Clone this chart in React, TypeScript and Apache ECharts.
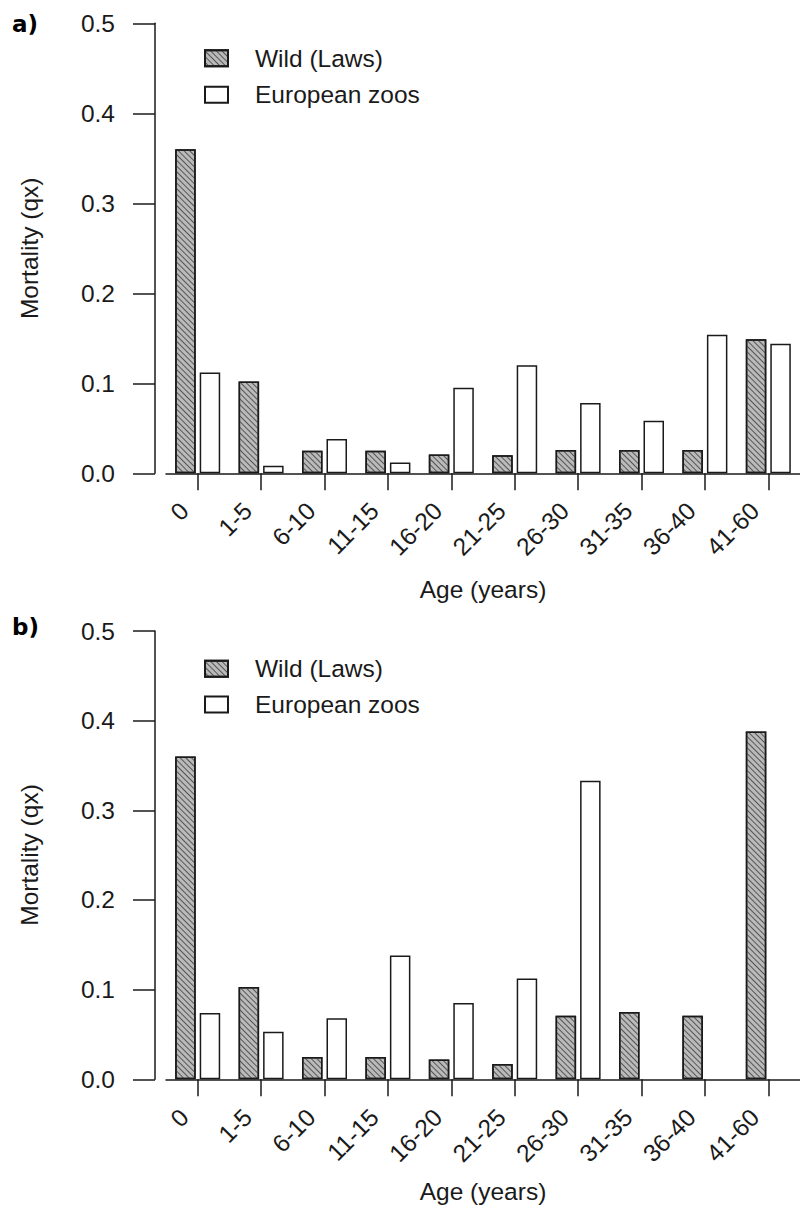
import React, { useEffect, useRef } from "react";
import * as echarts from "echarts";

// ---- data ----
const ageGroups = ["0", "1-5", "6-10", "11-15", "16-20", "21-25", "26-30", "31-35", "36-40", "41-60"];
const yTickValues = [0, 0.1, 0.2, 0.3, 0.4, 0.5];
const wildA = [0.36, 0.102, 0.025, 0.025, 0.021, 0.02, 0.026, 0.026, 0.026, 0.149];
const zoosA = [0.112, 0.0085, 0.038, 0.012, 0.095, 0.12, 0.078, 0.0585, 0.154, 0.144];
const wildB = [0.36, 0.103, 0.025, 0.025, 0.022, 0.017, 0.071, 0.075, 0.071, 0.388];
const zoosB = [0.074, 0.053, 0.068, 0.138, 0.085, 0.1125, 0.333, null, null, null];
const panelLabels = ["a)", "b)"];
const seriesNames = ["Wild (Laws)", "European zoos"];
const xTitle = "Age (years)";
const yTitle = "Mortality (qx)";

const FONT = "'Liberation Sans', Arial, Helvetica, sans-serif";
const FS = 24.5;
const INK = "#1a1a1a";

export default function App() {
  const ref = useRef<HTMLDivElement>(null);

  useEffect(() => {
    if (!ref.current) return;
    const chart = echarts.init(ref.current, null, { renderer: "svg" });

    const grids = [
      { left: 166, right: -10.5, top: 23.3, height: 450 },
      { left: 166, right: -10.5, top: 631, height: 448.3 },
    ];

    const xAxes = grids.map((_, i) => ({
      type: "category",
      gridIndex: i,
      data: ageGroups,
      offset: i === 0 ? 8.4 : 9,
      axisLine: { show: true, lineStyle: { color: INK, width: 1.5 } },
      axisTick: { show: true, alignWithLabel: true, length: 17, lineStyle: { color: INK, width: 1.5 } },
      axisLabel: {
        rotate: 45,
        interval: 0,
        fontSize: FS,
        fontFamily: FONT,
        color: INK,
        margin: 11.5,
        padding: [0, 19, 0, 0],
      },
      splitLine: { show: false },
    }));

    const yAxes = grids.map((_, i) => ({
      type: "value",
      gridIndex: i,
      min: yTickValues[0],
      max: yTickValues[yTickValues.length - 1],
      interval: 0.1,
      offset: 11,
      axisLine: { show: true, lineStyle: { color: INK, width: 1.5 } },
      axisTick: { show: true, length: 22, lineStyle: { color: INK, width: 1.5 } },
      axisLabel: {
        fontSize: FS,
        fontFamily: FONT,
        color: INK,
        margin: 40,
        formatter: (v: number) => v.toFixed(1),
      },
      splitLine: { show: false },
    }));

    const hatch = {
      color: "#bababa",
      borderColor: INK,
      borderWidth: 1.5,
      decal: {
        symbol: "rect",
        symbolSize: 1,
        dashArrayX: [1, 0],
        dashArrayY: [1, 2.2],
        rotation: Math.PI / 4,
        color: "#555555",
      },
    };
    const plain = { color: "#ffffff", borderColor: INK, borderWidth: 1.5 };

    const mkBar = (name: string, data: (number | null)[], idx: number, style: any) => ({
      type: "bar",
      name,
      xAxisIndex: idx,
      yAxisIndex: idx,
      data,
      barWidth: 20.5,
      barGap: "19.5%",
      itemStyle: style,
    });

    const series = [
      mkBar(seriesNames[0], wildA, 0, hatch),
      mkBar(seriesNames[1], zoosA, 0, plain),
      mkBar(seriesNames[0], wildB, 1, hatch),
      mkBar(seriesNames[1], zoosB, 1, plain),
    ];

    const legendBase = {
      orient: "vertical",
      left: 204,
      padding: 0,
      itemWidth: 23,
      itemHeight: 16,
      icon: "rect",
      data: seriesNames,
      selectedMode: false,
      textStyle: { fontSize: FS, fontFamily: FONT, color: INK, padding: [0, 0, 0, 22] },
    };

    const legends = [
      { ...legendBase, top: 45.75, itemGap: 11.5 },
      { ...legendBase, top: 656.25, itemGap: 10.7 },
    ];

    const titleStyle = { fontSize: FS, fontFamily: FONT, fill: INK };
    const tagFont = "bold 23px 'DejaVu Sans', sans-serif";

    const graphic = [
      {
        type: "text",
        x: 12,
        y: 24,
        style: { text: panelLabels[0], font: tagFont, fill: "#000", textVerticalAlign: "middle" },
      },
      {
        type: "text",
        x: 12,
        y: 627,
        style: { text: panelLabels[1], font: tagFont, fill: "#000", textVerticalAlign: "middle" },
      },
      {
        type: "text",
        x: 29,
        y: 248.3,
        rotation: Math.PI / 2,
        style: { ...titleStyle, text: yTitle, textAlign: "center", textVerticalAlign: "middle" },
      },
      {
        type: "text",
        x: 29,
        y: 855,
        rotation: Math.PI / 2,
        style: { ...titleStyle, text: yTitle, textAlign: "center", textVerticalAlign: "middle" },
      },
      {
        type: "text",
        x: 483,
        y: 589,
        style: { ...titleStyle, text: xTitle, textAlign: "center", textVerticalAlign: "middle" },
      },
      {
        type: "text",
        x: 483,
        y: 1191,
        style: { ...titleStyle, text: xTitle, textAlign: "center", textVerticalAlign: "middle" },
      },
    ];

    chart.setOption({
      animation: false,
      backgroundColor: "#ffffff",
      textStyle: { fontFamily: FONT },
      grid: grids,
      xAxis: xAxes,
      yAxis: yAxes,
      legend: legends,
      series,
      graphic,
    });

    return () => chart.dispose();
  }, []);

  return (
    <div
      ref={ref}
      style={{ position: "absolute", left: 0, top: 0, width: 800, height: 1205, background: "#fff" }}
    />
  );
}
